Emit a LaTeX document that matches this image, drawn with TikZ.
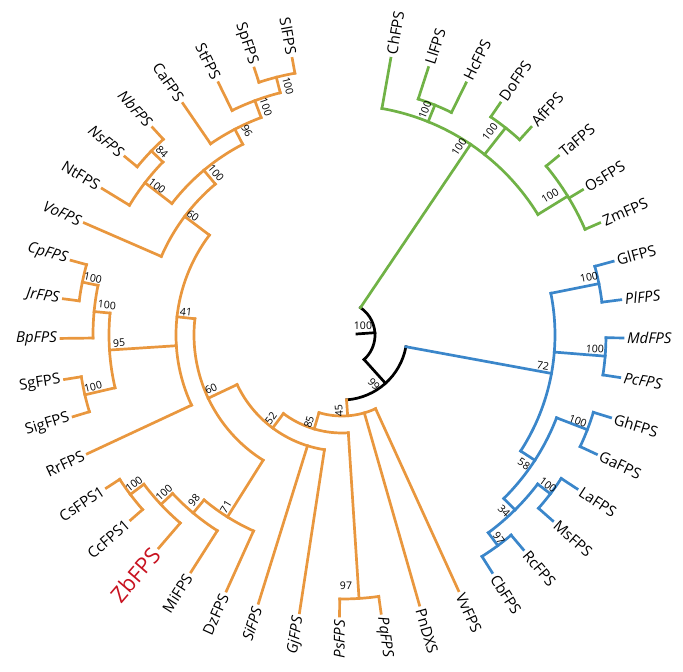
\documentclass[tikz,border=0pt]{standalone}
\usepackage{fontspec}
\setmainfont{Open Sans}
\usepackage{xcolor}
\definecolor{torange}{RGB}{233,151,62}
\definecolor{tgreen}{RGB}{112,178,70}
\definecolor{tblue}{RGB}{58,134,202}
\definecolor{tred}{RGB}{200,18,32}

% angle, inner radius, outer radius
\newcommand{\brstem}[3]{\draw (#1:#2pt) -- (#1:#3pt);}
% from angle, to angle, radius
\newcommand{\brarc}[3]{\draw (#1:#3pt) arc[start angle=#1, end angle=#2, radius=#3pt];}
% leaves on the right and on the left half
\newcommand{\leafR}[5][]{\draw (#2:#3pt) -- (#2:281pt) node[leaf,anchor=west,rotate=#2,#1] (#4) {#5};}
\newcommand{\leafL}[5][]{\draw (#2:#3pt) -- (#2:281pt) node[leaf,anchor=east,rotate=#2+180,#1] (#4) {#5};}

\begin{document}
\begin{tikzpicture}
  \tikzset{tree/.style={line width=2.7pt,line cap=rect},
    leaf/.style={inner sep=2.8pt,text=black,font=\fontsize{15}{17}\selectfont},
    ileaf/.style={font=\fontsize{15}{17}\selectfont\itshape},
    zbleaf/.style={text=tred,font=\fontsize{22}{25}\selectfont},
    boot/.style={inner sep=0pt,text=black,font=\fontsize{10.5}{12}\selectfont}}
  \useasboundingbox (-342pt,-337pt) rectangle (341pt,335pt);

  % root
  \begin{scope}[tree,color=black]
    \brstem{4}{15}{33} \brarc{56}{-48}{33}
    \brstem{-48}{33}{65} \brarc{-10.4}{-86}{65}
  \end{scope}
  \node[boot] (bRoot) at (21pt,9pt) {100};
  \node[boot,rotate=-48] (bR99) at (32pt,-49pt) {99};

  % monocots
  \begin{scope}[tree,color=tgreen]
    \brstem{56}{33}{230} \brarc{80}{31.6}{230}
    \leafR{80}{230}{ChFPS}{ChFPS}
    \brstem{68}{230}{248} \brarc{72.1}{63.8}{248}
    \leafR{72.1}{248}{LlFPS}{LlFPS}
    \leafR{63.8}{248}{HcFPS}{HcFPS}
    \brstem{51.7}{230}{264} \brarc{55.7}{47.7}{264}
    \leafR{55.7}{264}{DoFPS}{DoFPS}
    \leafR{47.7}{264}{AfFPS}{AfFPS}
    \brstem{31.6}{230}{265} \brarc{39.6}{23.5}{265}
    \leafR{39.6}{265}{TaFPS}{TaFPS}
    \leafR{31.1}{265}{OsFPS}{OsFPS}
    \leafR{23.5}{265}{ZmFPS}{ZmFPS}
  \end{scope}
  \node[boot,rotate=56] (bG0) at (117pt,188pt) {100};
  \node[boot,rotate=68] (bG1) at (83pt,225pt) {100};
  \node[boot,rotate=52] (bG2) at (148pt,203pt) {100};
  \node[boot,rotate=31.5] (bG3) at (208pt,139pt) {100};

  % blue clade
  \begin{scope}[tree,color=tblue]
    \brstem{-10.4}{65}{213} \brarc{11.3}{-33}{213}
    \brstem{11.3}{213}{262} \brarc{15.2}{7.2}{262}
    \leafR{15.2}{262}{GlFPS}{GlFPS}
    \leafR[ileaf]{7.2}{262}{PlFPS}{PlFPS}
    \brstem{-4.6}{213}{264} \brarc{-0.6}{-8.7}{264}
    \leafR[ileaf]{-0.6}{264}{MdFPS}{MdFPS}
    \leafR[ileaf]{-8.7}{264}{PcFPS}{PcFPS}
    \brstem{-33}{213}{230} \brarc{-21.1}{-45.3}{230}
    \brstem{-21.1}{230}{263} \brarc{-17.1}{-25.1}{263}
    \leafR{-17.1}{263}{GhFPS}{GhFPS}
    \leafR{-25.1}{263}{GaFPS}{GaFPS}
    \brstem{-45.3}{230}{246} \brarc{-37.3}{-53.5}{246}
    \brstem{-37.3}{246}{262} \brarc{-33.2}{-41.4}{262}
    \leafR{-33.2}{262}{LaFPS}{LaFPS}
    \leafR{-41.4}{262}{MsFPS}{MsFPS}
    \brstem{-53.5}{246}{262} \brarc{-49.8}{-57.7}{262}
    \leafR{-49.8}{262}{RcFPS}{RcFPS}
    \leafR{-57.7}{262}{CbFPS}{CbFPS}
  \end{scope}
  \node[boot,rotate=-10] (bB0) at (201pt,-31pt) {72};
  \node[boot,rotate=11] (bB1) at (247pt,58pt) {100};
  \node[boot,rotate=-4.6] (bB2) at (253pt,-14pt) {100};
  \node[boot,rotate=-33] (bB3) at (182pt,-129pt) {58};
  \node[boot,rotate=-21] (bB4) at (236pt,-86pt) {100};
  \node[boot,rotate=-45] (bB5) at (162pt,-176pt) {34};
  \node[boot,rotate=-37] (bB6) at (206pt,-150pt) {100};
  \node[boot,rotate=-53.5] (bB7) at (157pt,-203pt) {97};

  % orange clade
  \begin{scope}[tree,color=torange]
    \brstem{-86}{65}{81} \brarc{-65.5}{-106.5}{81}
    \leafR{-65.5}{81}{VvFPS}{VvFPS}
    \leafR{-74}{81}{PnDXS}{PnDXS}
    \brstem{-106.5}{81}{98} \brarc{-86.3}{-126.7}{98}
    \brstem{-86.3}{98}{264} \brarc{-82}{-90.5}{264}
    \leafR[ileaf]{-82}{264}{PqFPS}{PqFPS}
    \leafL[ileaf]{-90.5}{264}{PsFPS}{PsFPS}
    \brstem{-126.7}{98}{116} \brarc{-98.7}{-154.7}{116}
    \leafL[ileaf]{-98.7}{116}{GjFPS}{GjFPS}
    \leafL[ileaf]{-107.3}{116}{SiFPS}{SiFPS}
    \brstem{-154.7}{116}{148} \brarc{-122.2}{-186.3}{148}
    \brstem{-122.2}{148}{215} \brarc{-114.3}{-129.9}{215}
    \leafL{-114.3}{215}{DzFPS}{DzFPS}
    \brstem{-129.9}{215}{232} \brarc{-122.5}{-136.9}{232}
    \leafL{-122.5}{232}{MiFPS}{MiFPS}
    \brstem{-136.9}{232}{248} \brarc{-130.7}{-143}{248}
    \leafL[zbleaf]{-130.7}{248}{ZbFPS}{ZbFPS}
    \brstem{-143}{248}{265} \brarc{-138.8}{-147}{265}
    \leafL{-138.8}{265}{CcFPS1}{CcFPS1}
    \leafL{-147}{265}{CsFPS1}{CsFPS1}
    \brstem{-186.3}{148}{166} \brarc{-155}{-217}{166}
    \leafL{-155}{166}{RrFPS}{RrFPS}
    \brstem{-176.3}{166}{233} \brarc{-166.9}{-185.4}{233}
    \brstem{-166.9}{233}{264} \brarc{-163.1}{-170.9}{264}
    \leafL{-163.1}{264}{SigFPS}{SigFPS}
    \leafL{-170.9}{264}{SgFPS}{SgFPS}
    \brstem{-185.4}{233}{249} \brarc{-179.3}{-191.5}{249}
    \leafL[ileaf]{-179.3}{249}{BpFPS}{BpFPS}
    \brstem{-191.5}{249}{265} \brarc{-187.4}{-195.4}{265}
    \leafL[ileaf]{-187.4}{265}{JrFPS}{JrFPS}
    \leafL[ileaf]{-195.4}{265}{CpFPS}{CpFPS}
    \brstem{-217}{166}{197} \brarc{-203.5}{-230}{197}
    \leafL[ileaf]{-203.5}{197}{VoFPS}{VoFPS}
    \brstem{-230}{197}{215} \brarc{-217.7}{-242.5}{215}
    \brstem{-217.7}{215}{249} \brarc{-211.4}{-224}{249}
    \leafL{-211.4}{249}{NtFPS}{NtFPS}
    \brstem{-224}{249}{265} \brarc{-219.4}{-227.6}{265}
    \leafL[ileaf]{-219.4}{265}{NsFPS}{NsFPS}
    \leafL[ileaf]{-227.6}{265}{NbFPS}{NbFPS}
    \brstem{-242.5}{215}{232} \brarc{-235.5}{-249.6}{232}
    \leafL{-235.5}{232}{CaFPS}{CaFPS}
    \brstem{-249.6}{232}{250} \brarc{-243.9}{-255.7}{250}
    \leafL{-243.9}{250}{StFPS}{StFPS}
    \brstem{-255.7}{250}{266} \brarc{-251.8}{-259.8}{266}
    \leafL{-251.8}{266}{SpFPS}{SpFPS}
    \leafL{-259.8}{266}{SlFPS}{SlFPS}
  \end{scope}
  \node[boot,rotate=94] (bO45) at (-3pt,-76pt) {45};
  \node[boot,rotate=73.5] (bO85) at (-33pt,-87pt) {85};
  \node[boot,rotate=53] (bO52) at (-71pt,-83pt) {52};
  \node[boot,rotate=25] (bO60d) at (-131pt,-54pt) {60};
  \node[boot,rotate=-6] (bO41) at (-156pt,23pt) {41};
  \node[boot,rotate=-37] (bO60u) at (-149pt,119pt) {60};
  \node[boot,rotate=-50] (bO100n) at (-126pt,162pt) {100};
  \node[boot,rotate=-38] (bO100t) at (-185pt,149pt) {100};
  \node[boot,rotate=-44] (bO84) at (-180pt,183pt) {84};
  \node[boot,rotate=-62] (bO96) at (-95pt,204pt) {96};
  \node[boot,rotate=-70] (bO100s) at (-76pt,228pt) {100};
  \node[boot,rotate=-76] (bO100p) at (-54pt,249pt) {100};
  \node[boot,rotate=4] (bO95) at (-223pt,-8pt) {95};
  \node[boot,rotate=-5] (bO100j) at (-235pt,30pt) {100};
  \node[boot,rotate=-11] (bO100c) at (-249pt,57pt) {100};
  \node[boot,rotate=13] (bO100g) at (-249pt,-52pt) {100};
  \node[boot,rotate=58] (bO71) at (-116pt,-172pt) {71};
  \node[boot,rotate=50] (bO98) at (-148pt,-165pt) {98};
  \node[boot,rotate=43] (bO100b) at (-178pt,-158pt) {100};
  \node[boot,rotate=37] (bO100cs) at (-208pt,-149pt) {100};
  \node[boot] (bO97) at (4pt,-251pt) {97};
\end{tikzpicture}
\end{document}
